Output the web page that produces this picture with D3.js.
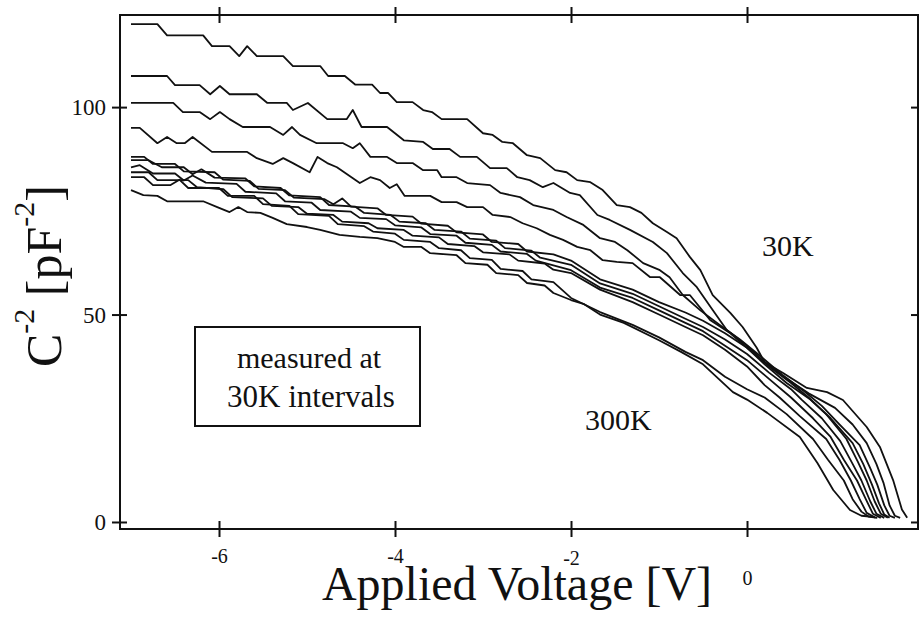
<!DOCTYPE html>
<html><head><meta charset="utf-8">
<script src="https://cdn.jsdelivr.net/npm/d3@7"></script>
<style>
body{margin:0;background:#fff}
svg{display:block}
text{font-family:"Liberation Serif","Times New Roman",serif;fill:#111}
</style>
</head><body>
<svg id="chart" width="922" height="619"></svg>
<script>
// ---- data ----
const temperatures = ["30K","60K","90K","120K","150K","180K","210K","240K","270K","300K"];
const xTicks = [-6,-4,-2,0];
const yTicks = [0,50,100];

const curve30K = [[-7,120],[-6.7,120],[-6.59,117.3],[-6.18,117.3],[-6.08,114.7],[-5.88,114.7],[-5.77,112.3],[-5.68,114.7],[-5.57,112.3],[-5.27,112.3],[-5.16,109.9],[-4.85,109.9],[-4.76,107.5],[-4.57,107.5],[-4.45,105.4],[-4.26,105.4],[-4.17,103.4],[-4.08,103.4],[-3.98,101.2],[-3.8,101.2],[-3.68,99.3],[-3.58,98.8],[-3.47,97.1],[-3.18,97.1],[-3.0,93.7],[-2.89,93.3],[-2.78,91.6],[-2.66,91.3],[-2.5,88.4],[-2.35,87.7],[-2.18,84.8],[-2.05,84.3],[-1.93,82.4],[-1.78,81.9],[-1.64,80],[-1.48,76.4],[-1.33,75.9],[-1.2,74.5],[-1.07,72],[-0.91,69.9],[-0.8,68.4],[-0.65,63.9],[-0.53,60.7],[-0.39,54.7],[-0.19,50.4],[-0.05,47],[0.11,42],[0.2,38.5],[0.41,35.9],[0.68,32.3],[0.91,31.3],[1.09,29.4],[1.36,22.9],[1.51,18.1],[1.66,10.1],[1.76,3],[1.82,1]];
const curve60K = [[-7,107.5],[-6.59,107.5],[-6.5,105.3],[-6.22,105.3],[-6.1,103.1],[-5.99,105.1],[-5.88,103.1],[-5.57,103.1],[-5.45,101],[-5.23,101],[-5.16,99.3],[-4.99,101],[-4.77,97.1],[-4.55,97.1],[-4.48,99.3],[-4.38,95.2],[-4.09,95.2],[-3.9,92],[-3.68,91.6],[-3.57,89.9],[-3.38,89.9],[-3.26,88],[-3.07,88],[-2.92,85.3],[-2.73,85.3],[-2.61,83.1],[-2.47,82.4],[-2.32,80.7],[-2.2,81.7],[-2.01,79.3],[-1.9,78.8],[-1.7,74],[-1.56,72.8],[-1.33,70.4],[-1.07,67.5],[-0.91,64.8],[-0.73,60],[-0.57,56.6],[-0.39,51.1],[-0.23,46.3],[0,42.5],[0.2,38.5],[0.45,34.5],[0.7,31],[1.0,27.5],[1.2,23.5],[1.36,19],[1.47,14],[1.55,9.5],[1.62,4],[1.68,1.5],[1.74,1]];
const curve90K = [[-7,101],[-6.52,101],[-6.41,98.8],[-6.22,98.8],[-6.1,97.1],[-5.99,98.8],[-5.88,97.1],[-5.73,95.2],[-5.42,95.2],[-5.27,93.3],[-5.17,95.2],[-5.08,93.3],[-4.89,91.3],[-4.59,91.3],[-4.48,90.1],[-4.4,91.3],[-4.28,88],[-4.09,88],[-3.98,86.5],[-3.8,86.5],[-3.68,84.8],[-3.52,84.8],[-3.47,83.1],[-3.3,83.1],[-3.18,81.7],[-2.92,81.2],[-2.8,79.3],[-2.58,78.3],[-2.43,76.4],[-2.2,75.2],[-2.05,73.5],[-1.86,71.6],[-1.67,68.4],[-1.5,67.5],[-1.36,65.5],[-1.18,62.4],[-0.99,60.7],[-0.88,59],[-0.73,54.7],[-0.53,51],[-0.31,47.5],[-0.08,44],[0.15,40],[0.4,35.5],[0.65,31.5],[0.85,28],[1.05,23.5],[1.28,18.5],[1.4,13],[1.48,9],[1.56,4],[1.62,1.5],[1.68,1]];
const curve120K = [[-7,95],[-6.9,95],[-6.7,91.3],[-6.59,92.8],[-6.48,91.3],[-6.39,91.3],[-6.3,92.8],[-6.08,89.2],[-5.68,89.2],[-5.57,87.7],[-5.39,86.3],[-5.27,87.7],[-5.16,86.5],[-4.97,84.3],[-4.88,88],[-4.77,86.5],[-4.66,85.5],[-4.4,81.7],[-4.28,83.1],[-4.17,82.4],[-4.06,80.5],[-3.98,81.4],[-3.89,78.6],[-3.6,78.6],[-3.47,77.1],[-3.3,77.1],[-3.18,75.9],[-3.0,75.9],[-2.89,74],[-2.69,73.5],[-2.55,72],[-2.39,70.8],[-2.24,69.2],[-2.09,68],[-1.93,66.3],[-1.78,65.5],[-1.64,63.1],[-1.48,62.7],[-1.3,62.4],[-1.1,59],[-0.99,59],[-0.76,54.7],[-0.65,54.7],[-0.42,48.7],[-0.19,45.5],[0,42],[0.2,38],[0.45,33.5],[0.72,29.5],[0.95,25],[1.2,19],[1.32,14],[1.42,9],[1.5,4.5],[1.56,1.8],[1.62,1]];
const curve150K = [[-7,88],[-6.85,88],[-6.75,86.3],[-6.5,86.3],[-6.4,84.5],[-6.05,84.3],[-5.95,82.5],[-5.65,82.2],[-5.55,80.3],[-5.25,80],[-5.15,78.2],[-4.8,77.8],[-4.7,76.6],[-4.6,78],[-4.5,76],[-4.2,75.6],[-4.1,74],[-3.8,73.6],[-3.7,71.9],[-3.4,71.4],[-3.3,69.8],[-3.0,69.3],[-2.9,67.5],[-2.6,67],[-2.5,65.2],[-2.2,64.5],[-2.0,63],[-1.67,58.5],[-1.3,56],[-1.0,53],[-0.7,50.5],[-0.5,48.5],[-0.25,45.5],[0,42],[0.25,37.5],[0.5,33.5],[0.7,30],[0.9,26],[1.13,20],[1.26,14.5],[1.36,10],[1.45,5],[1.52,2],[1.6,1]];
const curve180K = [[-7,87.2],[-6.8,87.2],[-6.65,85.5],[-6.4,85.5],[-6.3,83.8],[-6.2,85],[-6.05,83],[-5.7,82.8],[-5.6,80.9],[-5.3,80.5],[-5.2,78.7],[-4.85,78.3],[-4.75,76.4],[-4.45,76],[-4.35,74.5],[-4.05,74],[-3.95,72.4],[-3.65,72],[-3.55,70.4],[-3.25,70],[-3.15,68.3],[-2.85,67.8],[-2.75,66],[-2.45,65.4],[-2.35,63.7],[-2.0,62],[-1.67,57.5],[-1.3,55],[-1.0,52],[-0.7,49],[-0.5,47],[-0.25,44],[0,40.5],[0.25,36],[0.5,32],[0.62,29.5],[0.85,25],[1.06,19.5],[1.2,14],[1.3,10],[1.4,5],[1.47,2],[1.56,1]];
const curve210K = [[-7,85.5],[-6.9,86],[-6.75,84],[-6.5,84],[-6.4,82.3],[-6.3,83.5],[-6.15,81.8],[-5.8,81.5],[-5.7,79.6],[-5.35,79.2],[-5.25,77.3],[-4.95,77],[-4.85,75.2],[-4.5,74.8],[-4.4,73.3],[-4.1,73],[-4.0,71.5],[-3.7,71],[-3.6,69.4],[-3.3,69],[-3.2,67.3],[-2.9,66.8],[-2.8,65.2],[-2.5,64.6],[-2.4,63],[-2.0,60.7],[-1.67,56.5],[-1.3,54],[-1.0,51],[-0.7,48],[-0.5,46],[-0.25,42.5],[0,39],[0.25,34.5],[0.5,30],[0.75,25],[0.95,20.5],[1.1,15],[1.25,10],[1.35,5.5],[1.43,2],[1.52,1]];
const curve240K = [[-7,84.3],[-6.8,84.3],[-6.7,82.4],[-6.35,82.4],[-6.25,80.7],[-5.95,80.2],[-5.85,78.3],[-5.5,78],[-5.4,76.2],[-5.1,75.9],[-5.0,74.3],[-4.7,74],[-4.6,72.4],[-4.3,72],[-4.2,70.8],[-3.9,70.4],[-3.8,69],[-3.5,68.6],[-3.4,67],[-3.1,66.5],[-3.0,65],[-2.7,64.5],[-2.6,63],[-2.3,62.3],[-2.2,60.8],[-2.0,60],[-1.67,56],[-1.3,53],[-1.0,50],[-0.7,47],[-0.5,45],[-0.25,41.5],[0,37.5],[0.2,33],[0.37,30],[0.6,25.5],[0.9,20],[1.05,15],[1.18,10],[1.28,5.5],[1.36,2.2],[1.46,1]];
const curve270K = [[-7,83.1],[-6.85,83.1],[-6.75,81.2],[-6.55,81.2],[-6.45,82.5],[-6.35,80.5],[-6.0,80.5],[-5.9,78.6],[-5.6,78.6],[-5.5,76.6],[-5.2,76.2],[-5.1,74.2],[-4.75,73.8],[-4.65,71.8],[-4.35,71.3],[-4.25,70],[-4.0,69.5],[-3.9,68],[-3.6,67.5],[-3.5,66],[-3.25,65.5],[-3.15,63.6],[-2.9,63.2],[-2.8,61],[-2.55,60.5],[-2.45,58.5],[-2.2,57.8],[-2.0,54],[-1.67,50.6],[-1.3,47.5],[-1.0,44.5],[-0.7,41],[-0.5,39],[-0.25,35],[0,32],[0.2,30],[0.45,26],[0.75,20],[0.92,15],[1.1,10],[1.2,5.5],[1.3,2.5],[1.38,1.3],[1.48,1]];
const curve300K = [[-7,80],[-6.86,78.8],[-6.7,78.6],[-6.59,77.3],[-6.18,77.3],[-6.02,75.9],[-5.88,74.7],[-5.78,75.9],[-5.68,74.7],[-5.53,74.5],[-5.39,73.3],[-5.23,71.8],[-5.0,71.1],[-4.85,70.4],[-4.63,69.2],[-4.4,68.7],[-4.2,68.4],[-4.0,67.5],[-3.9,66.3],[-3.7,66.3],[-3.6,64.8],[-3.3,64.3],[-3.2,62.4],[-2.95,62],[-2.85,60],[-2.6,59.5],[-2.5,57.6],[-2.3,57],[-2.2,55.2],[-2.0,53.5],[-1.85,52.5],[-1.67,50],[-1.4,48],[-1.0,43.8],[-0.75,41],[-0.5,38],[-0.16,31.3],[0,29.5],[0.23,26.3],[0.6,20.5],[0.8,14.2],[0.98,7.7],[1.17,2.9],[1.3,1.5],[1.45,1.2]];

const curves = [curve30K,curve60K,curve90K,curve120K,curve150K,curve180K,curve210K,curve240K,curve270K,curve300K];

// ---- drawing ----
const svg = d3.select("#chart");
const mLeft = 120, mRight = 918, mTop = 15, mBottom = 529;
const x = d3.scaleLinear().domain([-7.125, 1.943]).range([mLeft, mRight]);
const y = d3.scaleLinear().domain([-1.69, 122.2]).range([mBottom, mTop]);

const line = d3.line().x(d => x(d[0])).y(d => y(d[1]));
svg.append("g").selectAll("path").data(curves).join("path")
  .attr("d", line).attr("fill","none").attr("stroke","#111")
  .attr("stroke-width",1.8).attr("stroke-linejoin","round");

// frame
svg.append("rect").attr("x",mLeft).attr("y",mTop).attr("width",mRight-mLeft).attr("height",mBottom-mTop)
  .attr("fill","none").attr("stroke","#111").attr("stroke-width",2);

const fmt = d => String(d);

// bottom axis
const gb = svg.append("g").attr("transform",`translate(0,${mBottom})`)
  .call(d3.axisBottom(x).tickValues(xTicks).tickSize(8).tickFormat(fmt));
gb.select(".domain").remove();
gb.selectAll(".tick line").attr("y1",-8).attr("y2",8).attr("stroke","#111").attr("stroke-width",2);
gb.selectAll(".tick text").attr("y", d => d === 0 ? 56 : (d === -2 ? 36 : 34)).attr("dy",0).attr("font-size",20)
  .attr("font-family","Liberation Serif, serif").attr("fill","#111");

// top axis
const gt = svg.append("g").attr("transform",`translate(0,${mTop})`)
  .call(d3.axisTop(x).tickValues(xTicks).tickSize(8).tickFormat(""));
gt.select(".domain").remove();
gt.selectAll(".tick line").attr("y1",-8).attr("y2",8).attr("stroke","#111").attr("stroke-width",2);

// left axis
const gl = svg.append("g").attr("transform",`translate(${mLeft},0)`)
  .call(d3.axisLeft(y).tickValues(yTicks).tickSize(8).tickFormat(fmt));
gl.select(".domain").remove();
gl.selectAll(".tick line").attr("x1",-8).attr("x2",7).attr("stroke","#111").attr("stroke-width",2);
gl.selectAll(".tick text").attr("x",-14).attr("dy","0.34em").attr("font-size",23)
  .attr("font-family","Liberation Serif, serif").attr("fill","#111");

// right axis
const gr = svg.append("g").attr("transform",`translate(${mRight},0)`)
  .call(d3.axisRight(y).tickValues(yTicks).tickSize(-7).tickFormat(""));
gr.select(".domain").remove();
gr.selectAll(".tick line").attr("stroke","#111").attr("stroke-width",2);

// axis titles
svg.append("text").attr("x",517).attr("y",600).attr("text-anchor","middle")
  .attr("font-size",48).text("Applied Voltage [V]");

const yt = svg.append("text").attr("transform","translate(61,276) rotate(-90)")
  .attr("text-anchor","middle").attr("font-size",50);
yt.append("tspan").text("C");
yt.append("tspan").attr("dy",-27).attr("font-size",30).text("-2");
yt.append("tspan").attr("dy",27).text(" [pF");
yt.append("tspan").attr("dy",-27).attr("font-size",30).text("-2");
yt.append("tspan").attr("dy",27).text("]");

// legend box
svg.append("rect").attr("x",195).attr("y",327).attr("width",225).attr("height",99)
  .attr("fill","none").attr("stroke","#111").attr("stroke-width",2);
svg.append("text").attr("x",309).attr("y",368).attr("text-anchor","middle").attr("font-size",30).text("measured at");
svg.append("text").attr("x",311).attr("y",407).attr("text-anchor","middle").attr("font-size",31).text("30K intervals");

// temperature labels
svg.append("text").attr("x",762).attr("y",256).attr("font-size",30).text(temperatures[0]);
svg.append("text").attr("x",585).attr("y",430).attr("font-size",30).text(temperatures[temperatures.length-1]);
</script>
</body></html>
